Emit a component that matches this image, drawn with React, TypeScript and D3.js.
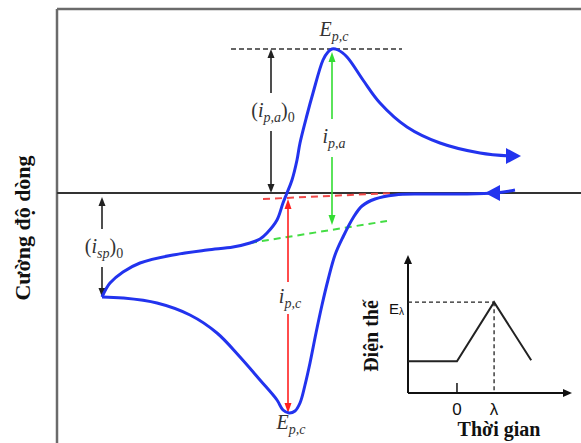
import { useEffect, useRef } from "react";
import * as d3 from "d3";

// Cyclic voltammogram, values (arbitrary units: E = potential, i = current)
const cathodicScan: [number, number][] = [
  [458, 3], [438, 0], [403, -1], [363, -1], [338, -2], [318, -6], [305, -13],
  [296, -25], [286, -44], [278, -62], [271, -87], [265, -112], [259, -140],
  [253, -170], [248, -192], [243, -210], [238, -218], [232, -220], [226, -217],
  [220, -207], [203, -187], [183, -164], [160, -140], [133, -122], [100, -110],
  [66, -105], [45, -104],
];

const anodicScan: [number, number][] = [
  [45, -104], [49, -96], [53, -90], [66, -79], [83, -70], [116, -62], [150, -57],
  [176, -54], [193, -50], [203, -46], [210, -40], [220, -27], [226, -10], [230, 0],
  [235, 13], [240, 33], [243, 50], [250, 78], [256, 100], [266, 133], [271, 141],
  [275, 144], [281, 143], [290, 136], [306, 113], [323, 90], [350, 66], [383, 50],
  [423, 40], [453, 37],
];

// scan direction arrows: tip [E, i] and pointing direction
const scanArrows = [
  { tip: [464, 37], dir: 1 },
  { tip: [428, 0], dir: -1 },
];

// vertical current arrows (E, from i, to i, label position i)
const currentArrows = [
  { name: "ipa0", E: 214, iFrom: 144, iTo: 0, iLabel: 81, color: "#222", label: "ipa0" },
  { name: "ipa", E: 275, iFrom: 141, iTo: -32, iLabel: 55, color: "#33dd33", label: "ipa" },
  { name: "ipc", E: 231, iFrom: -6, iTo: -220, iLabel: -105, color: "#ff2020", label: "ipc" },
  { name: "isp0", E: 45, iFrom: -4, iTo: -104, iLabel: -55, color: "#222", label: "isp0" },
];

// dashed reference lines [E1, i1, E2, i2]
const peakLine = [174, 144, 345, 144];
const redBaseline = [206, -6, 336, 0];
const greenBaseline = [193, -50, 330, -28];

// inset: potential waveform (t, E), lambda at t = 1
const waveT = [-1.32, 0, 1, 2];
const waveE = [0.35, 0.35, 1, 0.36];
const lambdaT = 1;
const lambdaE = 1;

type Part = { t: string; sub?: boolean; italic?: boolean };

const labelParts: Record<string, Part[]> = {
  ipa0: [{ t: "(" }, { t: "i", italic: true }, { t: "p,a", sub: true, italic: true }, { t: ")" }, { t: "0", sub: true }],
  ipa: [{ t: "i", italic: true }, { t: "p,a", sub: true, italic: true }],
  ipc: [{ t: "i", italic: true }, { t: "p,c", sub: true, italic: true }],
  isp0: [{ t: "(" }, { t: "i", italic: true }, { t: "sp", sub: true, italic: true }, { t: ")" }, { t: "0", sub: true }],
  Epc: [{ t: "E", italic: true }, { t: "p,c", sub: true, italic: true }],
};

function App() {
  const svgRef = useRef<SVGSVGElement>(null);

  useEffect(() => {
    const width = 581;
    const height = 443;
    const svg = d3.select(svgRef.current);
    svg.selectAll("*").remove();

    const x = d3.scaleLinear().domain([0, 524]).range([57, 581]);
    const y = d3.scaleLinear().domain([-250, 184]).range([443, 9]);

    svg.append("rect").attr("width", width).attr("height", height).attr("fill", "#fff");

    const mathLabel = (px: number, py: number, parts: Part[]) => {
      const t = svg
        .append("text")
        .attr("x", px)
        .attr("y", py)
        .attr("text-anchor", "middle")
        .attr("font-family", "'Liberation Serif', 'DejaVu Serif', serif")
        .attr("fill", "#333");
      let shift = 0;
      parts.forEach(p => {
        const target = p.sub ? 5 : 0;
        t.append("tspan")
          .attr("dy", target - shift)
          .attr("font-size", p.sub ? 14 : 20)
          .attr("font-style", p.italic ? "italic" : "normal")
          .text(p.t);
        shift = target;
      });
    };

    const head = (tx: number, ty: number, dx: number, dy: number, len: number, w: number, color: string) => {
      const bx = tx - dx * len;
      const by = ty - dy * len;
      svg
        .append("path")
        .attr("d", `M${tx},${ty}L${bx - dy * w},${by + dx * w}L${bx + dy * w},${by - dx * w}Z`)
        .attr("fill", color);
    };

    // frame
    svg.append("line").attr("x1", x(0)).attr("x2", x(524)).attr("y1", y(184)).attr("y2", y(184))
      .attr("stroke", "#6b6b6b").attr("stroke-width", 2.5);
    svg.append("line").attr("x1", x(0)).attr("x2", x(0)).attr("y1", y(184)).attr("y2", y(-250))
      .attr("stroke", "#6b6b6b").attr("stroke-width", 2.5);

    // zero current line
    svg.append("line").attr("x1", x(0)).attr("x2", x(524)).attr("y1", y(0)).attr("y2", y(0))
      .attr("stroke", "#333").attr("stroke-width", 2);

    // dashed lines
    const dashed = (d: number[], color: string, w: number, dash: string) =>
      svg.append("line")
        .attr("x1", x(d[0])).attr("y1", y(d[1])).attr("x2", x(d[2])).attr("y2", y(d[3]))
        .attr("stroke", color).attr("stroke-width", w).attr("stroke-dasharray", dash);

    dashed(peakLine, "#333", 1.5, "5,3");
    dashed(redBaseline, "#f04848", 2, "7,5");
    dashed(greenBaseline, "#44dd44", 2, "7,5");

    // current arrows with gap for label
    currentArrows.forEach(a => {
      const px = x(a.E);
      const y1 = y(a.iFrom);
      const y2 = y(a.iTo);
      const yl = y(a.iLabel);
      const gap = a.name === "ipc" ? 16 : 19;
      const hl = a.color === "#222" ? 9 : 10;
      svg.append("line").attr("x1", px).attr("x2", px).attr("y1", y1 + hl - 1).attr("y2", yl - gap)
        .attr("stroke", a.color).attr("stroke-width", 1.6);
      svg.append("line").attr("x1", px).attr("x2", px).attr("y1", yl + gap).attr("y2", y2 - hl + 1)
        .attr("stroke", a.color).attr("stroke-width", 1.6);
      head(px, y1, 0, -1, hl, 3.5, a.color);
      head(px, y2, 0, 1, hl, 3.5, a.color);
      mathLabel(px + 2, yl + 5, labelParts[a.label]);
    });

    // voltammogram
    const line = d3.line<[number, number]>()
      .x(d => x(d[0]))
      .y(d => y(d[1]))
      .curve(d3.curveCatmullRom.alpha(0.5));

    [cathodicScan, anodicScan].forEach(scan =>
      svg.append("path").attr("d", line(scan)).attr("fill", "none")
        .attr("stroke", "#2233ee").attr("stroke-width", 3).attr("stroke-linejoin", "round"));

    scanArrows.forEach(s => head(x(s.tip[0]), y(s.tip[1]), s.dir, 0, 15, 8, "#2233ee"));

    // peak labels
    const top = anodicScan.reduce((m, d) => (d[1] > m[1] ? d : m));
    const bottom = cathodicScan.reduce((m, d) => (d[1] < m[1] ? d : m));
    mathLabel(x(top[0]) + 2, y(top[1]) - 13, labelParts.Epc);
    mathLabel(x(bottom[0]) + 2, y(bottom[1]) + 16, labelParts.Epc);

    // y axis title
    svg.append("text")
      .attr("transform", `translate(30, 228) rotate(-90)`)
      .attr("text-anchor", "middle")
      .attr("font-family", "'Liberation Serif', serif")
      .attr("font-weight", "bold")
      .attr("font-size", 22)
      .attr("fill", "#111")
      .text("Cường độ dòng");

    // inset
    const tx = d3.scaleLinear().domain([-1.32, 3.1]).range([408, 572]);
    const ey = d3.scaleLinear().domain([0, 1.52]).range([393, 255]);

    svg.append("line").attr("x1", tx(-1.32)).attr("x2", tx(3.1) - 6).attr("y1", ey(0)).attr("y2", ey(0))
      .attr("stroke", "#111").attr("stroke-width", 2);
    svg.append("line").attr("x1", tx(-1.32)).attr("x2", tx(-1.32)).attr("y1", ey(0)).attr("y2", ey(1.52) + 6)
      .attr("stroke", "#111").attr("stroke-width", 2);
    head(tx(3.1), ey(0), 1, 0, 9, 4, "#111");
    head(tx(-1.32), ey(1.52), 0, -1, 9, 4, "#111");

    svg.append("line").attr("x1", tx(0)).attr("x2", tx(0)).attr("y1", ey(0)).attr("y2", ey(0) - 10)
      .attr("stroke", "#111").attr("stroke-width", 1.5);

    svg.append("line").attr("x1", tx(-1.32)).attr("x2", tx(lambdaT)).attr("y1", ey(lambdaE)).attr("y2", ey(lambdaE))
      .attr("stroke", "#222").attr("stroke-width", 1.3).attr("stroke-dasharray", "4,3");
    svg.append("line").attr("x1", tx(lambdaT)).attr("x2", tx(lambdaT)).attr("y1", ey(lambdaE)).attr("y2", ey(0))
      .attr("stroke", "#222").attr("stroke-width", 1.3).attr("stroke-dasharray", "4,3");

    const wave = d3.line<number>().x(d => tx(d)).y((d, i) => ey(waveE[i]));
    svg.append("path").attr("d", wave(waveT)).attr("fill", "none")
      .attr("stroke", "#222").attr("stroke-width", 2);

    const sans = "'Liberation Sans', Arial, sans-serif";
    svg.append("text").attr("x", tx(0)).attr("y", 415).attr("text-anchor", "middle")
      .attr("font-family", sans).attr("font-size", 17).attr("fill", "#111").text("0");
    svg.append("text").attr("x", tx(lambdaT)).attr("y", 415).attr("text-anchor", "middle")
      .attr("font-family", sans).attr("font-size", 17).attr("fill", "#111").text("λ");

    const el = svg.append("text").attr("x", 389).attr("y", ey(lambdaE) + 12)
      .attr("font-family", sans).attr("fill", "#111");
    el.append("tspan").attr("font-size", 15).text("E");
    el.append("tspan").attr("font-size", 10).attr("dy", 1).text("λ");

    svg.append("text").attr("x", 499).attr("y", 436).attr("text-anchor", "middle")
      .attr("font-family", "'Liberation Serif', serif").attr("font-weight", "bold")
      .attr("font-size", 20).attr("fill", "#111").text("Thời gian");

    svg.append("text")
      .attr("transform", `translate(378, 336) rotate(-90)`)
      .attr("text-anchor", "middle")
      .attr("font-family", "'Liberation Serif', serif")
      .attr("font-weight", "bold")
      .attr("font-size", 20)
      .attr("fill", "#111")
      .text("Điện thế");
  }, []);

  return (
    <svg
      ref={svgRef}
      width={581}
      height={443}
      style={{ position: "absolute", left: 0, top: 0, display: "block" }}
    />
  );
}

export default App;
